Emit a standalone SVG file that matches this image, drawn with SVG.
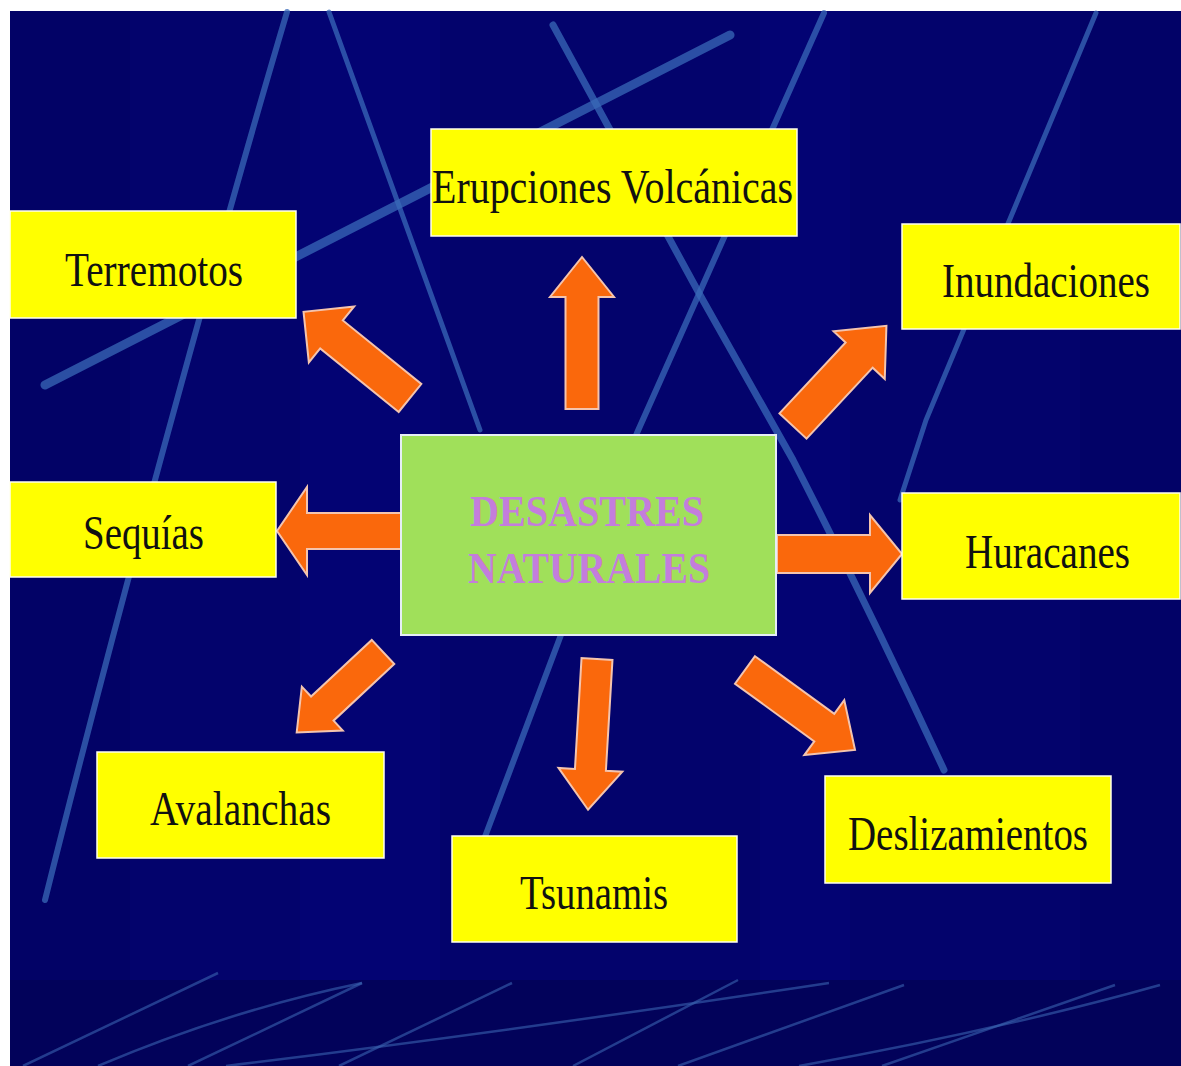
<svg xmlns="http://www.w3.org/2000/svg" width="1181" height="1066" viewBox="0 0 1181 1066">
<defs>
<style>
.bgline{fill:none;stroke:#3a6ab8;stroke-linecap:round;opacity:0.75}
.thin{fill:none;stroke:#3a64b0;stroke-width:2.5;opacity:0.6}
.box{fill:#ffff00;stroke:#fffff0;stroke-width:1.5}
.lbl{font-family:"Liberation Serif","Times New Roman",serif;font-size:48px;fill:#111111;text-anchor:start}
.arrow{fill:#fa680c;stroke:#f4c4ae;stroke-width:2;stroke-linejoin:miter}
.title{font-family:"Liberation Serif","Times New Roman",serif;font-size:44px;font-weight:bold;fill:#c47ddc}
</style>
<linearGradient id="glow" x1="0" y1="0" x2="1" y2="0">
<stop offset="0" stop-color="#4a6ab0" stop-opacity="0.2"/>
<stop offset="0.5" stop-color="#a8c8a0" stop-opacity="1"/>
<stop offset="1" stop-color="#4a6ab0" stop-opacity="0.2"/>
</linearGradient>
</defs>

<g id="background">
<rect x="0" y="0" width="1181" height="1066" fill="#ffffff"/>
<rect x="10" y="11" width="1171" height="1055" fill="#03036c"/>
<rect x="10" y="11" width="120" height="969" fill="#020262" opacity="0.6"/>
<rect x="300" y="11" width="140" height="969" fill="#04047a" opacity="0.5"/>
<rect x="760" y="11" width="90" height="969" fill="#04047a" opacity="0.5"/>
<rect x="1080" y="11" width="101" height="969" fill="#020262" opacity="0.5"/>
<rect x="10" y="980" width="1171" height="86" fill="#02025a"/>
<path class="bgline" style="stroke-width:6" d="M287,12 C240,170 130,560 45,900"/>
<path class="bgline" style="stroke-width:5" d="M329,12 L480,430"/>
<path class="bgline" style="stroke-width:9" d="M45,385 L730,35"/>
<path class="bgline" style="stroke-width:7" d="M553,25 L700,295 L793,460 Q870,610 944,770"/>
<path class="bgline" style="stroke-width:6" d="M824,13 L637,433 L480,850"/>
<path class="bgline" style="stroke-width:5" d="M1096,13 L926,420 L900,500"/>
<line x1="15" y1="980" x2="1170" y2="980" stroke="url(#glow)" stroke-width="3"/>
<path class="thin" d="M23,1066 L218,973"/>
<path class="thin" d="M98,1066 Q230,1010 362,983"/>
<path class="thin" d="M188,1066 L362,983"/>
<path class="thin" d="M226,1066 Q520,1030 829,983"/>
<path class="thin" d="M339,1066 L512,983"/>
<path class="thin" d="M573,1066 L738,980"/>
<path class="thin" d="M678,1066 L904,985"/>
<path class="thin" d="M799,1066 Q1000,1030 1160,985"/>
<path class="thin" d="M882,1066 L1115,985"/>
</g>

<g id="connectors">
<path class="arrow" transform="translate(582,409) rotate(-90)" d="M0,-16.5 L112,-16.5 L112,-32 L152,0 L112,32 L112,16.5 L0,16.5 Z"/>
<path class="arrow" transform="translate(410,398) rotate(-141)" d="M0,-18 L101,-18 L101,-36 L137,0 L101,36 L101,18 L0,18 Z"/>
<path class="arrow" transform="translate(793,426) rotate(-47)" d="M0,-18.5 L97,-18.5 L97,-35 L137,0 L97,35 L97,18.5 L0,18.5 Z"/>
<path class="arrow" transform="translate(401,531) rotate(180)" d="M0,-18 L94,-18 L94,-44 L124,0 L94,44 L94,18 L0,18 Z"/>
<path class="arrow" transform="translate(777,554)" d="M0,-19 L93,-19 L93,-39 L125,0 L93,39 L93,19 L0,19 Z"/>
<path class="arrow" transform="translate(383,652) rotate(137)" d="M0,-16.5 L83,-16.5 L83,-30 L118,0 L83,30 L83,16.5 L0,16.5 Z"/>
<path class="arrow" transform="translate(597,659) rotate(93.4)" d="M0,-15.5 L111,-15.5 L111,-32 L151,0 L111,32 L111,15.5 L0,15.5 Z"/>
<path class="arrow" transform="translate(745,670) rotate(36)" d="M0,-17 L98,-17 L98,-34 L136,0 L98,34 L98,17 L0,17 Z"/>
</g>

<g id="center">
<rect x="401" y="435" width="375" height="200" fill="#a0e05a" stroke="#e6eef6" stroke-width="2"/>
<text class="title" x="587" y="526" text-anchor="middle" textLength="234" lengthAdjust="spacingAndGlyphs">DESASTRES</text>
<text class="title" x="589" y="583" text-anchor="middle" textLength="242" lengthAdjust="spacingAndGlyphs">NATURALES</text>
</g>

<g id="terremotos">
<rect class="box" x="10" y="211" width="286" height="107"/>
<text class="lbl" x="65" y="286" textLength="178" lengthAdjust="spacingAndGlyphs">Terremotos</text>
</g>
<g id="erupciones">
<rect class="box" x="431" y="129" width="366" height="107"/>
<text class="lbl" x="432" y="203" textLength="361" lengthAdjust="spacingAndGlyphs">Erupciones Volcánicas</text>
</g>
<g id="inundaciones">
<rect class="box" x="902" y="224" width="278" height="105"/>
<text class="lbl" x="942" y="297" textLength="208" lengthAdjust="spacingAndGlyphs">Inundaciones</text>
</g>
<g id="sequias">
<rect class="box" x="10" y="482" width="266" height="95"/>
<text class="lbl" x="83" y="549" textLength="121" lengthAdjust="spacingAndGlyphs">Sequías</text>
</g>
<g id="huracanes">
<rect class="box" x="902" y="493" width="278" height="106"/>
<text class="lbl" x="965" y="568" textLength="165" lengthAdjust="spacingAndGlyphs">Huracanes</text>
</g>
<g id="avalanchas">
<rect class="box" x="97" y="752" width="287" height="106"/>
<text class="lbl" x="150" y="825" textLength="181" lengthAdjust="spacingAndGlyphs">Avalanchas</text>
</g>
<g id="tsunamis">
<rect class="box" x="452" y="836" width="285" height="106"/>
<text class="lbl" x="520" y="909" textLength="148" lengthAdjust="spacingAndGlyphs">Tsunamis</text>
</g>
<g id="deslizamientos">
<rect class="box" x="825" y="776" width="286" height="107"/>
<text class="lbl" x="848" y="850" textLength="240" lengthAdjust="spacingAndGlyphs">Deslizamientos</text>
</g>
</svg>
